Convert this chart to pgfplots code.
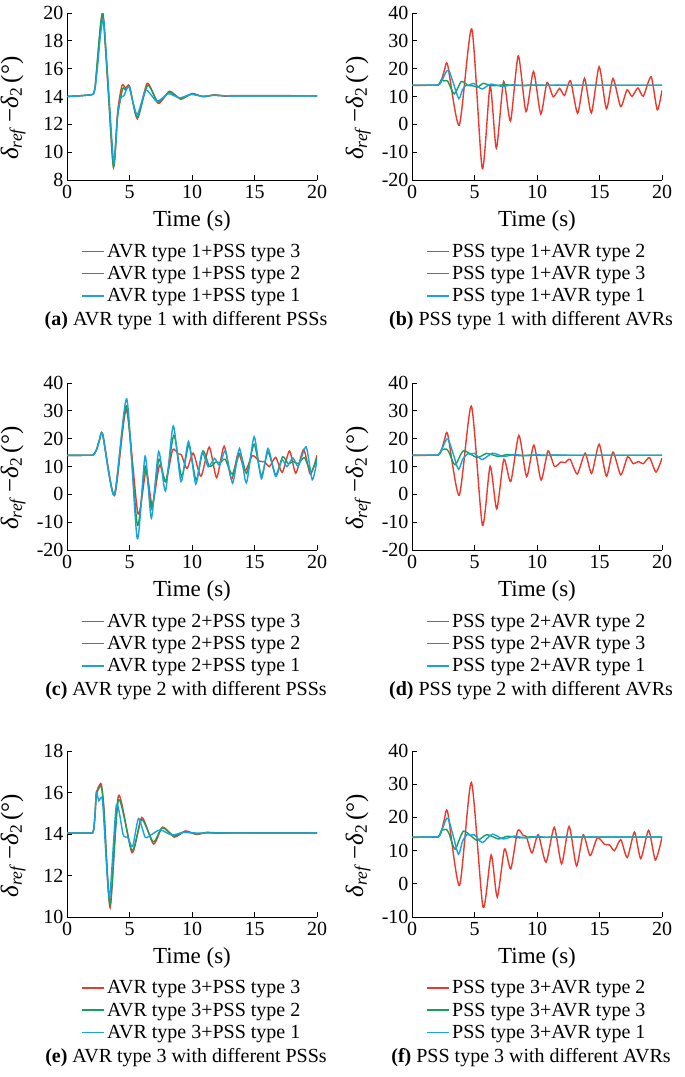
\documentclass[border=0pt]{standalone}
\usepackage{fontspec}
\setmainfont{Liberation Serif}
\usepackage{pgfplots}
\pgfplotsset{compat=1.18}
\usepackage{pgfplotstable}

\definecolor{cR}{RGB}{233,58,45}
\definecolor{cG}{RGB}{24,158,88}
\definecolor{cB}{RGB}{25,163,220}

% AVR type i + PSS type j  ->  \tab<i><j>  (A=1, B=2, C=3)
\pgfplotstableread{
t v
0 14.0
1.0 14.05
1.9 14.12
2.1 14.16
2.25 14.6
2.45 16.2
2.7 18.6
2.95 19.4
3.35 14.2
3.75 9.2
4.05 12.6
4.3 13.9
4.55 14.05
4.95 14.7
5.6 12.7
6.3 14.45
7.2 13.65
8.1 14.2
9.0 13.9
9.9 14.15
10.8 14.02
11.7 14.08
13.0 14.05
20 14.05
}\tabAA
\pgfplotstableread{
t v
0 14.0
1.0 14.05
1.9 14.12
2.1 14.16
2.25 14.7
2.45 16.8
2.7 19.3
2.9 19.85
3.3 14.5
3.72 8.95
4.05 12.6
4.45 14.55
4.7 14.45
5.0 14.7
5.62 12.5
6.45 14.8
7.3 13.6
8.2 14.3
9.1 13.85
10.0 14.18
10.9 14.0
11.8 14.1
13.0 14.05
20 14.05
}\tabAB
\pgfplotstableread{
t v
0 14.0
1.0 14.05
1.9 14.12
2.1 14.16
2.25 14.7
2.45 16.7
2.7 19.2
2.9 19.7
3.3 14.4
3.72 8.9
4.05 12.9
4.4 14.8
4.7 14.6
5.0 14.75
5.63 12.4
6.42 14.95
7.3 13.5
8.2 14.38
9.1 13.8
10.0 14.22
10.9 13.98
11.8 14.12
12.7 14.02
13.5 14.07
20 14.05
}\tabAC
\pgfplotstableread{
t v
0 14.0
1.9 14.05
2.05 14.1
2.2 14.6
2.4 16.5
2.6 19.5
2.85 21.4
3.78 -0.3
4.78 34.3
5.62 -15.9
6.25 13.8
6.75 -8.6
7.33 15.4
7.88 1.2
8.5 24.6
9.12 4.6
9.72 19.0
10.3 3.7
10.8 15.0
11.3 9.9
11.8 12.9
12.2 10.4
12.68 15.6
13.25 4.0
13.8 16.5
14.35 4.1
14.97 20.7
15.55 5.6
16.08 16.5
16.69 6.4
17.2 12.4
17.6 10.0
18.07 13.1
18.5 10.1
19.13 17.1
19.62 5.2
20 12.2
}\tabBA
\pgfplotstableread{
t v
0 14.0
1.9 14.05
2.05 14.1
2.2 14.6
2.4 16.5
2.6 19.6
2.86 21.5
3.78 -0.3
4.75 31.7
5.63 -11.0
6.25 10.1
6.78 -5.2
7.35 12.6
7.9 4.6
8.55 21.2
9.17 6.4
9.75 17.7
10.33 5.1
10.88 15.6
11.4 10.0
11.9 11.6
12.25 11.4
12.65 12.6
13.22 7.3
13.85 14.8
14.37 7.5
14.97 18.0
15.55 6.5
16.08 15.2
16.7 7.0
17.25 13.5
17.7 11.0
18.1 11.8
18.5 11.0
19.0 13.2
19.52 8.0
20 13.0
}\tabBB
\pgfplotstableread{
t v
0 14.0
1.9 14.05
2.05 14.1
2.2 14.6
2.4 16.5
2.6 19.6
2.86 21.5
3.8 -0.5
4.75 30.5
5.68 -7.0
6.33 8.7
6.82 -4.0
7.4 10.5
7.9 4.5
8.45 16.0
8.9 14.5
9.15 14.2
9.6 9.3
10.1 14.8
10.72 6.5
11.38 17.0
11.97 6.0
12.57 17.3
13.16 5.4
13.7 14.8
14.25 8.5
14.83 13.9
15.4 11.9
15.8 11.7
16.2 10.0
16.7 13.3
17.22 7.9
17.8 15.6
18.3 7.6
18.93 16.1
19.47 7.2
20 14.0
}\tabBC
\pgfplotstableread{
t v
0 14.05
1.9 14.05
2.05 14.08
2.15 14.25
2.25 15.0
2.35 16.0
2.55 15.6
2.85 15.55
3.38 10.95
3.95 15.4
4.5 13.95
4.85 13.85
5.25 13.4
5.72 14.75
6.25 13.85
6.7 13.95
7.45 14.2
8.4 13.95
9.3 14.08
10.5 14.05
20 14.05
}\tabCA
\pgfplotstableread{
t v
0 14.05
1.9 14.05
2.05 14.08
2.15 14.25
2.25 15.0
2.35 15.9
2.6 16.25
2.75 16.28
2.95 15.2
3.45 10.6
4.12 15.65
5.2 13.2
5.98 14.7
6.9 13.62
7.62 14.3
8.6 13.9
9.45 14.12
10.35 14.0
11.2 14.07
13.0 14.05
20 14.05
}\tabCB
\pgfplotstableread{
t v
0 14.05
1.9 14.05
2.05 14.08
2.15 14.25
2.25 15.0
2.35 16.0
2.6 16.35
2.75 16.4
2.95 15.25
3.45 10.45
4.12 15.85
5.2 13.1
5.98 14.8
6.92 13.52
7.65 14.33
8.6 13.85
9.47 14.15
10.35 13.98
11.2 14.08
12.0 14.03
13.0 14.06
20 14.05
}\tabCC

\pgfplotsset{
  panel/.style={
    scale only axis, width=250pt, height=167pt,
    xmin=0, xmax=20, xtick={0,5,10,15,20},
    axis lines=left,
    axis line style={-, line width=0.9pt},
    tick align=inside,
    major tick length=5pt,
    every tick/.style={black, line width=0.9pt},
    tick label style={font=\fontsize{20}{24}\selectfont},
    xticklabel style={yshift=-2pt},
    /pgf/number format/assume math mode=true,
    xlabel={Time (s)},
    xlabel style={font=\fontsize{23}{27}\selectfont, yshift=-5pt},
    ylabel={\textit{δ}\textsubscript{\textit{ref}}\,−\textit{δ}\textsubscript{2}\,(°)},
    every axis y label/.style={at={(axis description cs:-0.215,0.43)}, rotate=90, anchor=center, font=\fontsize{25}{30}\selectfont},
    legend style={draw=none, fill=none, at={(0.5,-0.37)}, anchor=north,
      font=\fontsize{20}{22}\selectfont, row sep=3.5pt, inner sep=0pt},
    legend cell align=left,
    legend image code/.code={\draw[##1, line width=1.6pt] (0pt,0pt) -- (22pt,0pt);},
    every axis plot/.append style={line width=1.4pt, smooth, tension=0.4},
  },
}
\tikzset{capfont/.style={font=\fontsize{20}{24}\selectfont, anchor=base}}

\begin{document}
\begin{tikzpicture}
\useasboundingbox (0,0) rectangle (685pt,-1077pt);

% (a)
\begin{axis}[panel, name=a, at={(67pt,-180pt)}, anchor=south west,
  ymin=8, ymax=20, ytick={8,10,...,20}]
\addplot[cR] table {\tabAC};
\addplot[cG] table {\tabAB};
\addplot[cB] table {\tabAA};
\legend{AVR type 1+PSS type 3, AVR type 1+PSS type 2, AVR type 1+PSS type 1}
\end{axis}
\node[capfont] at ([xshift=-6pt,yshift=-145pt]a.south) {\textbf{(a)} AVR type 1 with different PSSs};

% (b)
\begin{axis}[panel, name=b, at={(412pt,-180pt)}, anchor=south west,
  ymin=-20, ymax=40, ytick={-20,-10,...,40}]
\addplot[cR] table {\tabBA};
\addplot[cG] table {\tabCA};
\addplot[cB] table {\tabAA};
\legend{PSS type 1+AVR type 2, PSS type 1+AVR type 3, PSS type 1+AVR type 1}
\end{axis}
\node[capfont] at ([xshift=-6pt,yshift=-145pt]b.south) {\textbf{(b)} PSS type 1 with different AVRs};

% (c)
\begin{axis}[panel, name=c, at={(67pt,-550pt)}, anchor=south west,
  ymin=-20, ymax=40, ytick={-20,-10,...,40}]
\addplot[cR] table {\tabBC};
\addplot[cG] table {\tabBB};
\addplot[cB] table {\tabBA};
\legend{AVR type 2+PSS type 3, AVR type 2+PSS type 2, AVR type 2+PSS type 1}
\end{axis}
\node[capfont] at ([xshift=-6pt,yshift=-145pt]c.south) {\textbf{(c)} AVR type 2 with different PSSs};

% (d)
\begin{axis}[panel, name=d, at={(412pt,-550pt)}, anchor=south west,
  ymin=-20, ymax=40, ytick={-20,-10,...,40}]
\addplot[cR] table {\tabBB};
\addplot[cG] table {\tabCB};
\addplot[cB] table {\tabAB};
\legend{PSS type 2+AVR type 2, PSS type 2+AVR type 3, PSS type 2+AVR type 1}
\end{axis}
\node[capfont] at ([xshift=-6pt,yshift=-145pt]d.south) {\textbf{(d)} PSS type 2 with different AVRs};

% (e)
\begin{axis}[panel, name=e, at={(67pt,-917pt)}, anchor=south west, height=166pt,
  ymin=10, ymax=18, ytick={10,12,...,18}]
\addplot[cR] table {\tabCC};
\addplot[cG] table {\tabCB};
\addplot[cB] table {\tabCA};
\legend{AVR type 3+PSS type 3, AVR type 3+PSS type 2, AVR type 3+PSS type 1}
\end{axis}
\node[capfont] at ([xshift=-6pt,yshift=-145pt]e.south) {\textbf{(e)} AVR type 3 with different PSSs};

% (f)
\begin{axis}[panel, name=f, at={(412pt,-917pt)}, anchor=south west, height=166pt,
  ymin=-10, ymax=40, ytick={-10,0,...,40}]
\addplot[cR] table {\tabBC};
\addplot[cG] table {\tabCC};
\addplot[cB] table {\tabAC};
\legend{PSS type 3+AVR type 2, PSS type 3+AVR type 3, PSS type 3+AVR type 1}
\end{axis}
\node[capfont] at ([xshift=-6pt,yshift=-145pt]f.south) {\textbf{(f)} PSS type 3 with different AVRs};

\end{tikzpicture}
\end{document}
